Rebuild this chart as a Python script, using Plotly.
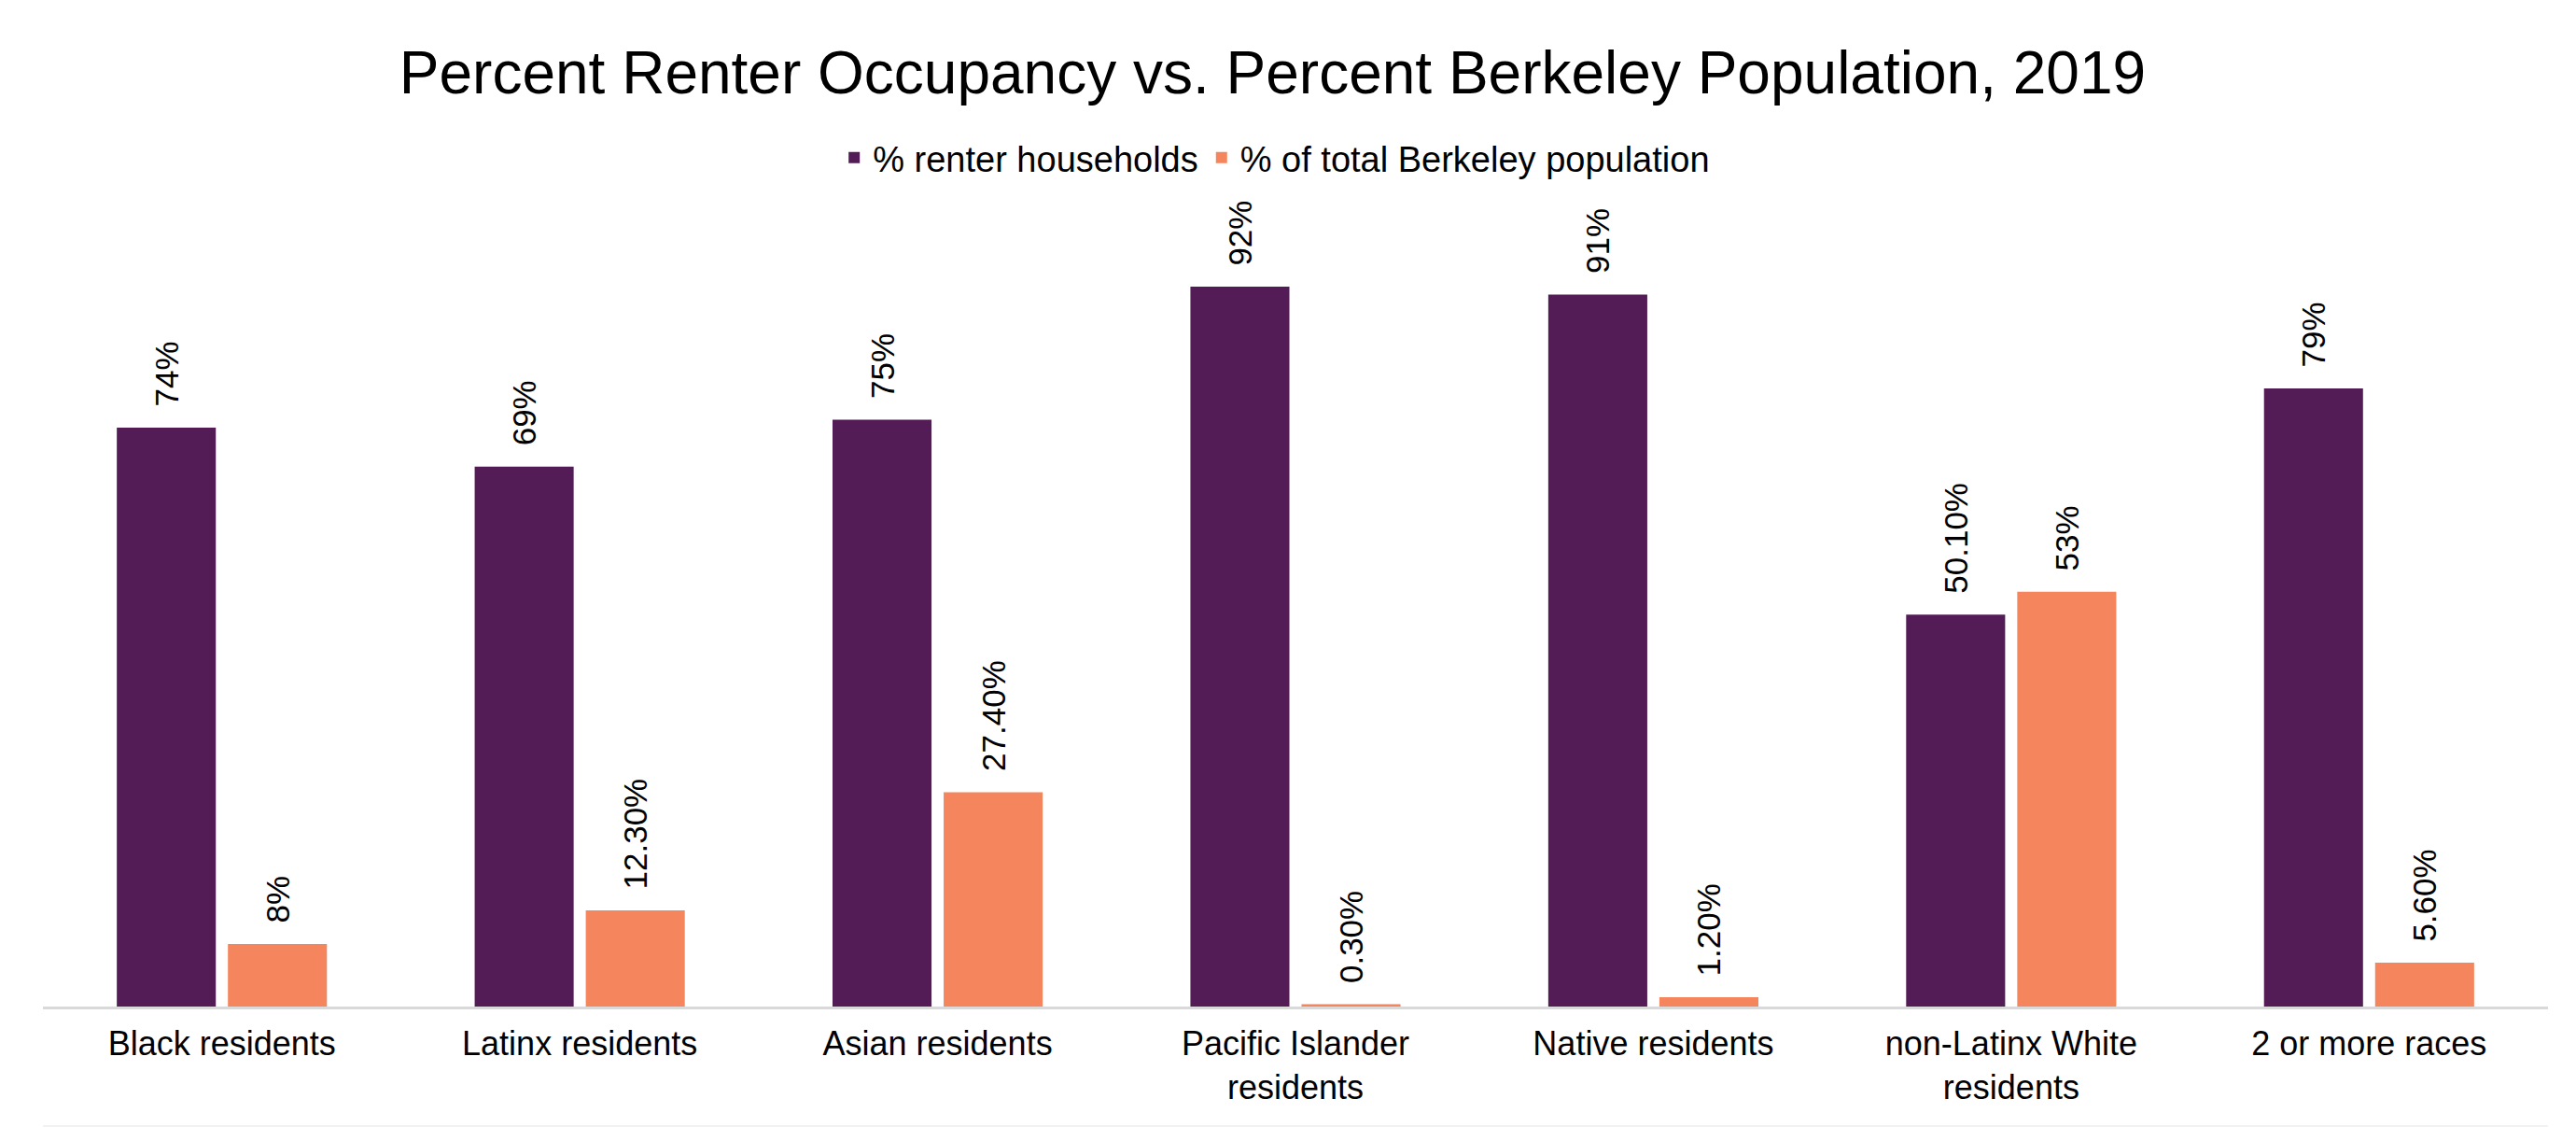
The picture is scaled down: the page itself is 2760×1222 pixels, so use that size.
import plotly.graph_objects as go

categories = ["Black residents", "Latinx residents", "Asian residents",
              "Pacific Islander<br>residents", "Native residents",
              "non-Latinx White<br>residents", "2 or more races"]
renter_pct = [74, 69, 75, 92, 91, 50.1, 79]
renter_labels = ["74%", "69%", "75%", "92%", "91%", "50.10%", "79%"]
pop_pct = [8, 12.3, 27.4, 0.3, 1.2, 53, 5.6]
pop_labels = ["8%", "12.30%", "27.40%", "0.30%", "1.20%", "53%", "5.60%"]

PURPLE = "#531C56"
ORANGE = "#F4855D"
FONT = "Liberation Sans, Arial, sans-serif"
PAD = "\u00a0\u00a0"

fig = go.Figure()
fig.add_trace(go.Bar(
    x=categories, y=renter_pct, name="% renter households",
    marker=dict(color=PURPLE, line=dict(width=0)),
    text=[PAD + t for t in renter_labels], textposition="outside",
    textangle=-90, textfont=dict(size=35, color="#000000", family=FONT),
    constraintext="none", cliponaxis=False,
))
fig.add_trace(go.Bar(
    x=categories, y=pop_pct, name="% of total Berkeley population",
    marker=dict(color=ORANGE, line=dict(width=0)),
    text=[PAD + t for t in pop_labels], textposition="outside",
    textangle=-90, textfont=dict(size=35, color="#000000", family=FONT),
    constraintext="none", cliponaxis=False,
))

fig.update_layout(
    width=2760, height=1222,
    margin=dict(l=46, r=30, t=240, b=144),
    paper_bgcolor="white", plot_bgcolor="white",
    barmode="group", bargap=0.379, bargroupgap=0.109,
    font=dict(family=FONT, color="#000000"),
    title=dict(text="Percent Renter Occupancy vs. Percent Berkeley Population, 2019",
               x=0.494, xanchor="center", y=1 - 78 / 1222, yanchor="middle",
               yref="container", xref="container",
               font=dict(size=64, family=FONT, color="#000000")),
    legend=dict(orientation="h", xref="container", yref="container",
                x=0.495, xanchor="center", y=1 - 169 / 1222, yanchor="middle",
                font=dict(size=38, family=FONT, color="#000000"),
                traceorder="normal"),
    uniformtext=dict(mode=False),
    xaxis=dict(showline=True, linecolor="#D9D9D9", linewidth=3, ticks="",
               tickfont=dict(size=36, family=FONT, color="#000000"),
               ticklabelstandoff=6,
               showgrid=False, zeroline=False),
    yaxis=dict(range=[0, 100], visible=False, showgrid=False, zeroline=False),
    shapes=[dict(type="line", xref="paper", yref="paper", x0=0, x1=1,
                 y0=-(1206 - 1078) / 838, y1=-(1206 - 1078) / 838,
                 line=dict(color="#F2F2F2", width=2))],
)

fig.write_html("out.html")
